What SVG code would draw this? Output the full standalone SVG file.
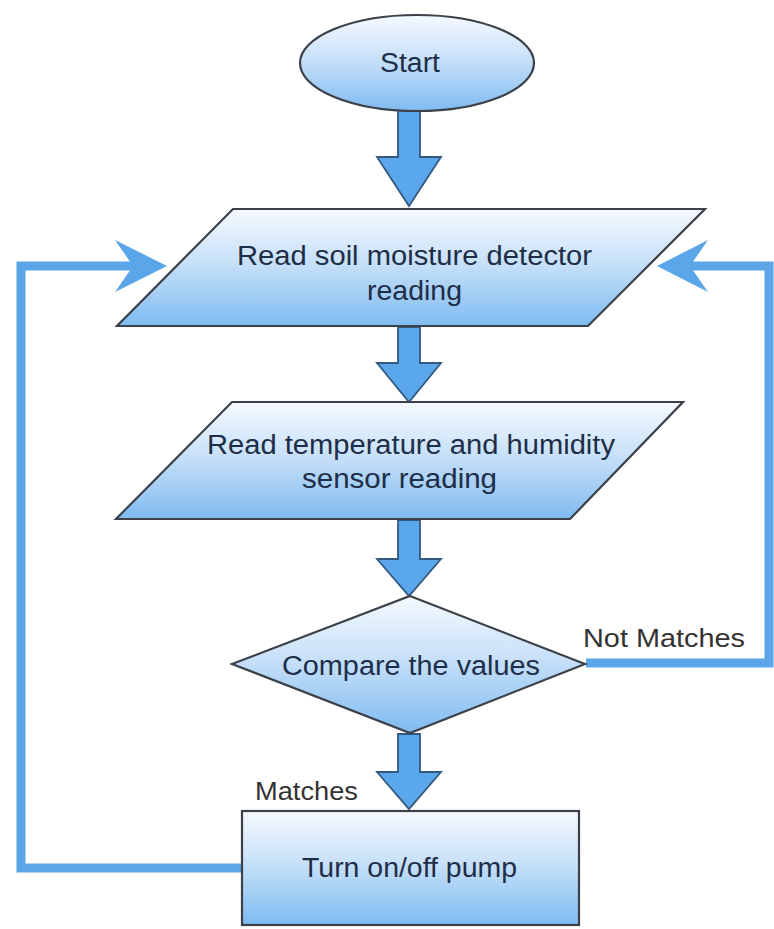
<svg xmlns="http://www.w3.org/2000/svg" width="774" height="929" viewBox="0 0 774 929">
  <defs>
    <linearGradient id="fillGrad" x1="0" y1="0" x2="0" y2="1">
      <stop offset="0" stop-color="#f5f9fe"/>
      <stop offset="0.45" stop-color="#c8e1f9"/>
      <stop offset="1" stop-color="#7fbbf1"/>
    </linearGradient>
    <style>
      .shape { fill: url(#fillGrad); stroke: #3c4048; stroke-width: 2.2; }
      .txt { font-family: "Liberation Sans", Arial, sans-serif; font-size: 27px; fill: #1f2e48; }
      .lbl { font-family: "Liberation Sans", Arial, sans-serif; font-size: 26px; fill: #333333; }
      .block { fill: #5ba7ec; stroke: #34597f; stroke-width: 1.8; stroke-linejoin: miter; }
      .line { fill: none; stroke: #5aa6e8; stroke-width: 9; stroke-linejoin: miter; }
      .head { fill: #5aa6e8; }
    </style>
  </defs>
  <rect x="0" y="0" width="774" height="929" fill="#ffffff"/>

  <g id="connectors">
    <polygon class="block" points="398,110 420,110 420,157 441,157 409,206 377,157 398,157"/>
    <polygon class="block" points="398,327 420,327 420,363 441,363 409,402 377,363 398,363"/>
    <polygon class="block" points="398,520 420,520 420,559 441,559 409,596 377,559 398,559"/>
    <polygon class="block" points="398,734 420,734 420,772 441,772 409,809 377,772 398,772"/>
    <path class="line" d="M242,868 H21 V266 H135"/>
    <polygon class="head" points="167,266 115,240 133,266 115,292"/>
    <path class="line" d="M586,663 H769 V266 H690"/>
    <polygon class="head" points="657,266 708,240 690,266 708,292"/>
  </g>

  <g id="start">
    <ellipse class="shape" cx="417" cy="63" rx="117" ry="48"/>
    <text class="txt" x="380" y="72" textLength="60" lengthAdjust="spacingAndGlyphs">Start</text>
  </g>

  <g id="read-soil">
    <polygon class="shape" points="233,209 705,209 588,326 117,326"/>
    <text class="txt" x="237" y="265" textLength="355" lengthAdjust="spacingAndGlyphs">Read soil moisture detector</text>
    <text class="txt" x="367" y="300" textLength="95" lengthAdjust="spacingAndGlyphs">reading</text>
  </g>

  <g id="read-temp">
    <polygon class="shape" points="232,402 683,402 570,519 116,519"/>
    <text class="txt" x="207" y="454" textLength="408" lengthAdjust="spacingAndGlyphs">Read temperature and humidity</text>
    <text class="txt" x="302" y="488" textLength="195" lengthAdjust="spacingAndGlyphs">sensor reading</text>
  </g>

  <g id="compare">
    <polygon class="shape" points="410,596 585,664 410,733 232,664"/>
    <text class="txt" x="282" y="675" textLength="258" lengthAdjust="spacingAndGlyphs">Compare the values</text>
  </g>

  <g id="labels">
    <text class="lbl" x="583" y="647" textLength="162" lengthAdjust="spacingAndGlyphs">Not Matches</text>
    <text class="lbl" x="255" y="800" textLength="103" lengthAdjust="spacingAndGlyphs">Matches</text>
  </g>

  <g id="pump">
    <rect class="shape" x="242" y="811" width="337" height="114"/>
    <text class="txt" x="302" y="877" textLength="215" lengthAdjust="spacingAndGlyphs">Turn on/off pump</text>
  </g>
</svg>
